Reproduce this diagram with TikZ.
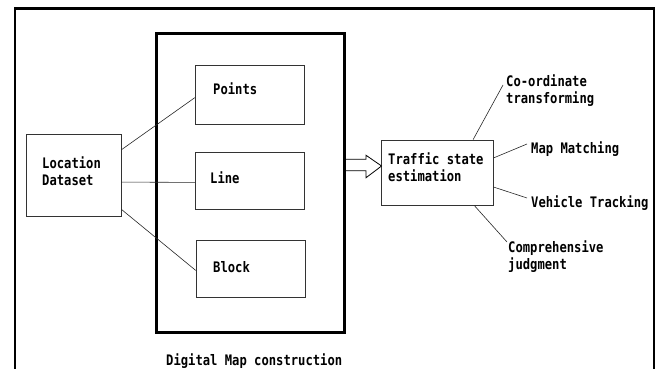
\documentclass[tikz,border=0pt]{standalone}
\usepackage{fontspec}
\newfontfamily\pixfont[FakeStretch=0.84]{DejaVu Sans Mono}
\usetikzlibrary{calc}
\begin{document}
\begin{tikzpicture}[x=1pt,y=-1pt,
  lbl/.style={anchor=base west,inner sep=0pt,align=left,
    font=\pixfont\bfseries\fontsize{14.5}{17}\selectfont},
  smallbox/.style={draw=black!80,line width=0.9pt,inner sep=0pt},
  link/.style={draw=black!85,line width=0.6pt},
  frameline/.style={line width=2.2pt},
  bigline/.style={line width=3pt}]
\useasboundingbox (0,0) rectangle (658,369);

% open frame around the whole figure
\draw[frameline] (14.7,375) -- (14.7,8.5) -- (653.8,8.5) -- (653.8,375);

% digital map construction block
\node[draw,bigline,inner sep=0pt,minimum width=188.5pt,minimum height=298.5pt]
  (map) at (250.25,183.25) {};
\node[smallbox,minimum width=109pt,minimum height=59pt] (pts) at (249.7,94.7) {};
\node[smallbox,minimum width=109pt,minimum height=57pt] (line) at (249.7,180.7) {};
\node[smallbox,minimum width=109pt,minimum height=57pt] (blk) at (250.7,268.7) {};
\node[lbl] at (213,94) {Points};
\node[lbl] at (210,183) {Line};
\node[lbl] at (213,272) {Block};
\node[lbl] (cap) at (166,365) {Digital Map construction};

% location dataset (multi-line labels are placed by their last baseline)
\node[smallbox,minimum width=95pt,minimum height=82pt] (loc) at (73.5,175) {};
\node[lbl] at (42,185) {Location\\Dataset};

\draw[link] ($(loc.north east)!0.195!(loc.south east)$) -- ($(pts.north west)!0.55!(pts.south west)$);
\draw[link] ($(loc.north east)!0.585!(loc.south east)$) -- ($(line.north west)!0.53!(line.south west)$);
\draw[link] ($(loc.north east)!0.915!(loc.south east)$) -- ($(blk.north west)!0.53!(blk.south west)$);

% traffic state estimation
\node[smallbox,minimum width=112pt,minimum height=65pt] (tse) at (437,172.5) {};
\node[lbl] at (388,181) {Traffic state\\estimation};

% hollow arrow from the map block to the estimation box
\draw[line width=0.8pt,fill=white]
  ($(map.east)+(0,-24)$) -- ++(20,0) -- ++(0,-4) -- ($(tse.west)+(1,-6.5)$)
  -- ($(map.east)+(20,-5.5)$) -- ++(0,-7) -- ++(-20,0);

% outputs
\node[lbl] (coord) at (506,103) {Co-ordinate\\transforming};
\node[lbl] (mm) at (531,153) {Map Matching};
\node[lbl] (vt) at (531,207) {Vehicle Tracking};
\node[lbl] (cj) at (508,269) {Comprehensive\\judgment};

\coordinate (coordend) at (503,85);
\coordinate (mmend) at (527,144);
\coordinate (vtend) at (527,198);
\coordinate (cjend) at (507,242);

\draw[link] ($(tse.north west)!0.82!(tse.north east)$) -- (coordend);
\draw[link] ($(tse.north east)!0.28!(tse.south east)$) -- (mmend);
\draw[link] ($(tse.north east)!0.72!(tse.south east)$) -- (vtend);
\draw[link] ($(tse.south west)!0.83!(tse.south east)$) -- (cjend);
\end{tikzpicture}
\end{document}
